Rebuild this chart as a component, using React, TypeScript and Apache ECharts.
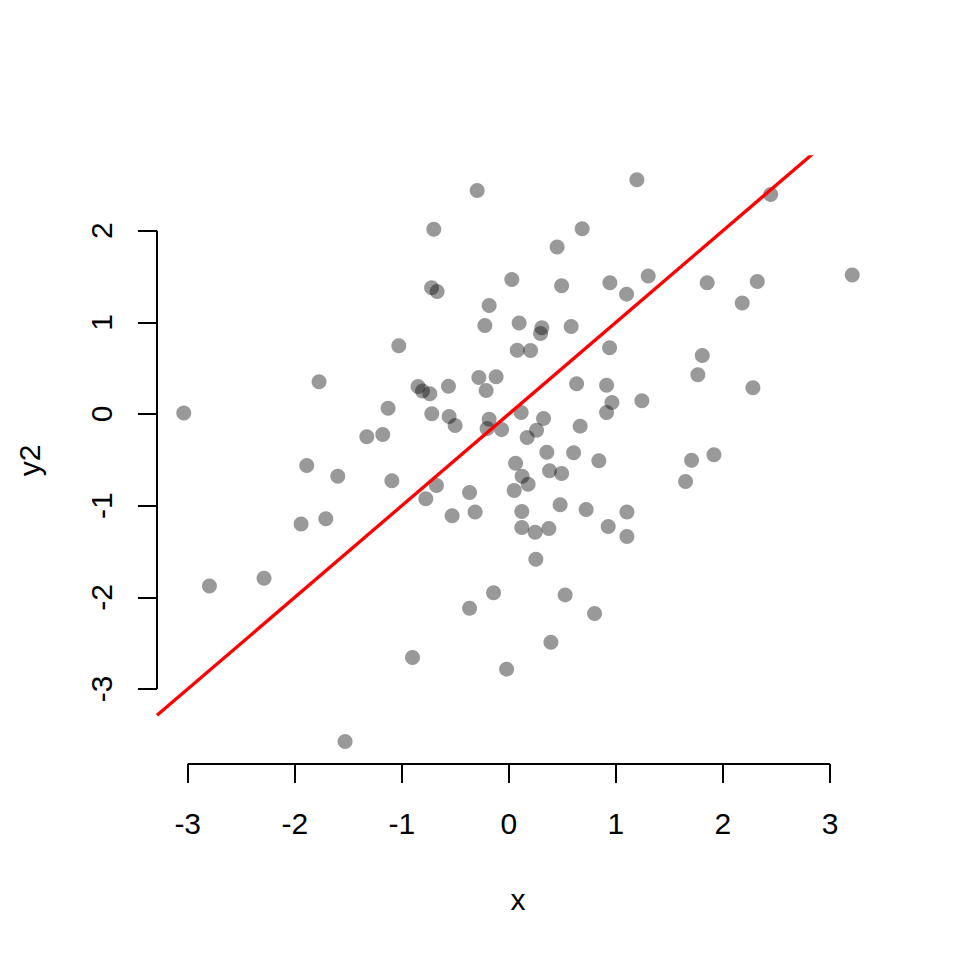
import React, { useEffect, useRef } from "react";
import * as echarts from "echarts";

const xValues = [
  -3.037, -2.797, -2.287, -1.941, -1.888, -1.773, -1.71, -1.598, -1.53, -1.327,
  -1.178, -1.128, -1.093, -1.028, -0.9, -0.848, -0.807, -0.776, -0.738, -0.722,
  -0.72, -0.701, -0.676, -0.67, -0.564, -0.558, -0.53, -0.502, -0.367, -0.367,
  -0.315, -0.296, -0.28, -0.224, -0.212, -0.203, -0.184, -0.184, -0.143, -0.119,
  -0.068, -0.021, 0.028, 0.05, 0.063, 0.078, 0.096, 0.115, 0.121, 0.121,
  0.124, 0.171, 0.18, 0.203, 0.246, 0.252, 0.259, 0.296, 0.308, 0.324,
  0.355, 0.374, 0.38, 0.393, 0.451, 0.479, 0.493, 0.493, 0.526, 0.582,
  0.605, 0.633, 0.666, 0.685, 0.722, 0.801, 0.841, 0.913, 0.913, 0.928,
  0.941, 0.944, 0.963, 1.1, 1.103, 1.103, 1.196, 1.243, 1.302, 1.651,
  1.707, 1.766, 1.807, 1.853, 1.916, 2.18, 2.28, 2.321, 2.446, 3.208,
];

const y2Values = [
  0.01, -1.875, -1.791, -1.201, -0.562, 0.351, -1.143, -0.678, -3.573, -0.249,
  -0.224, 0.064, -0.729, 0.744, -2.657, 0.3, 0.25, -0.925, 0.22, 1.377,
  0.002, 2.017, -0.78, 1.337, 0.304, -0.027, -1.111, -0.125, -0.857, -2.118,
  -1.07, 2.439, 0.398, 0.966, 0.256, -0.158, 1.184, -0.056, -1.951, 0.406,
  -0.169, -2.783, 1.468, -0.835, -0.536, 0.697, 0.992, 0.016, -1.064, -1.238,
  -0.678, -0.256, -0.765, 0.693, -1.289, -1.583, -0.176, 0.878, 0.941, -0.049,
  -0.416, -1.249, -0.62, -2.489, 1.821, -0.991, 1.399, -0.649, -1.973, 0.955,
  -0.423, 0.33, -0.132, 2.021, -1.042, -2.177, -0.511, 0.315, 0.016, -1.227,
  0.722, 1.432, 0.125, 1.308, -1.07, -1.337, 2.555, 0.144, 1.505, -0.736,
  -0.505, 0.428, 0.638, 1.432, -0.445, 1.21, 0.286, 1.446, 2.395, 1.516,
];

const xTicks = [-3, -2, -1, 0, 1, 2, 3];
const yTicks = [-3, -2, -1, 0, 1, 2];

const lineIntercept = 0;
const lineSlope = 1;

const X_MIN = -3.287;
const X_MAX = 3.458;
const Y_MIN = -3.818;
const Y_MAX = 2.804;

const FONT = "'Liberation Sans', Arial, Helvetica, sans-serif";

export default function App() {
  const ref = useRef<HTMLDivElement>(null);

  useEffect(() => {
    if (!ref.current) return;
    const chart = echarts.init(ref.current, undefined, { renderer: "svg" });

    const points = xValues.map((x, i) => [x, y2Values[i]]);
    const abline = [
      [X_MIN, lineIntercept + lineSlope * X_MIN],
      [X_MAX, lineIntercept + lineSlope * X_MAX],
    ];
    const xAxisLine = [
      [xTicks[0], Y_MIN],
      [xTicks[xTicks.length - 1], Y_MIN],
    ];
    const yAxisLine = [
      [X_MIN, yTicks[0]],
      [X_MIN, yTicks[yTicks.length - 1]],
    ];

    const axisCommon = {
      type: "value" as const,
      axisLine: { show: false, onZero: false },
      splitLine: { show: false },
      axisTick: {
        show: true,
        inside: false,
        length: 19,
        lineStyle: { color: "#000", width: 2 },
      },
      nameLocation: "middle" as const,
      nameTextStyle: { fontFamily: FONT, fontSize: 30, color: "#000" },
    };

    chart.setOption({
      animation: false,
      backgroundColor: "#fff",
      grid: { left: 157, right: 81, top: 157, bottom: 196, containLabel: false },
      xAxis: {
        ...axisCommon,
        min: X_MIN,
        max: X_MAX,
        name: "x",
        nameGap: 120,
        axisTick: { ...axisCommon.axisTick, customValues: xTicks },
        axisLabel: {
          customValues: xTicks,
          fontFamily: FONT,
          fontSize: 30,
          color: "#000",
          margin: 44,
          formatter: (v: number) => String(v),
        },
      },
      yAxis: {
        ...axisCommon,
        min: Y_MIN,
        max: Y_MAX,
        name: "y2",
        nameGap: 113,
        axisTick: { ...axisCommon.axisTick, customValues: yTicks },
        axisLabel: {
          customValues: yTicks,
          fontFamily: FONT,
          fontSize: 30,
          color: "#000",
          margin: 41,
          rotate: 90,
          formatter: (v: number) => String(v),
        },
      },
      series: [
        {
          type: "scatter",
          data: points,
          symbol: "circle",
          symbolSize: 15,
          itemStyle: { color: "rgba(0,0,0,0.5)" },
          silent: true,
        },
        {
          type: "line",
          data: abline,
          symbol: "none",
          clip: true,
          lineStyle: { color: "#ff0000", width: 3.3 },
          silent: true,
        },
        {
          type: "line",
          data: xAxisLine,
          symbol: "none",
          clip: false,
          lineStyle: { color: "#000", width: 2 },
          silent: true,
        },
        {
          type: "line",
          data: yAxisLine,
          symbol: "none",
          clip: false,
          lineStyle: { color: "#000", width: 2 },
          silent: true,
        },
      ],
    });

    return () => chart.dispose();
  }, []);

  return <div ref={ref} style={{ width: 960, height: 960, margin: -8 }} />;
}
